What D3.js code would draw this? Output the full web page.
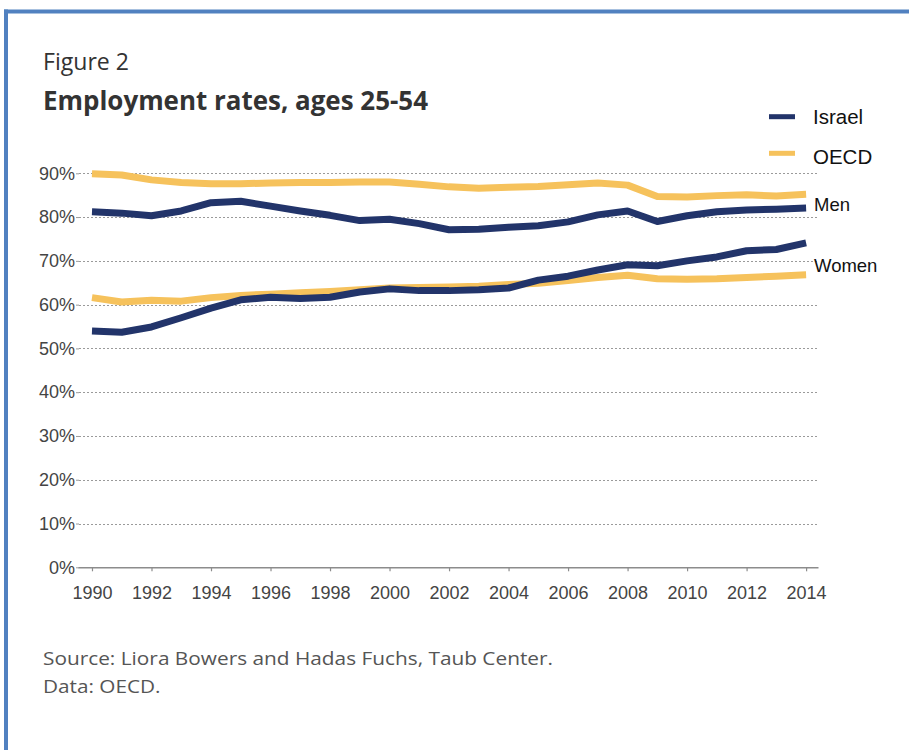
<!DOCTYPE html>
<html>
<head>
<meta charset="utf-8">
<script src="https://cdn.jsdelivr.net/npm/d3@7"></script>
<style>
  html, body { margin: 0; padding: 0; background: #fff; }
  svg { display: block; }
</style>
</head>
<body>
<svg id="chart" width="909" height="750"></svg>
<script>
// Employment rates, ages 25-54 (percent)
const years = d3.range(1990, 2015);
const israelMen   = [81.2, 80.9, 80.3, 81.4, 83.3, 83.6, 82.5, 81.4, 80.4, 79.2, 79.5, 78.5, 77.1, 77.2, 77.7, 78.0, 78.9, 80.5, 81.4, 79.0, 80.3, 81.2, 81.6, 81.8, 82.1];
const oecdMen     = [89.9, 89.6, 88.5, 87.9, 87.6, 87.6, 87.8, 87.9, 87.9, 88.0, 88.0, 87.5, 86.9, 86.6, 86.8, 87.0, 87.4, 87.8, 87.3, 84.7, 84.6, 84.9, 85.1, 84.8, 85.2];
const israelWomen = [54.0, 53.7, 54.9, 57.0, 59.2, 61.1, 61.7, 61.4, 61.7, 62.9, 63.6, 63.2, 63.2, 63.4, 63.8, 65.6, 66.5, 67.9, 69.1, 68.9, 70.0, 70.9, 72.3, 72.6, 74.1];
const oecdWomen   = [61.6, 60.6, 61.0, 60.8, 61.6, 62.1, 62.4, 62.7, 63.0, 63.4, 63.8, 63.9, 64.0, 64.2, 64.6, 64.9, 65.5, 66.2, 66.7, 65.9, 65.8, 65.9, 66.2, 66.5, 66.8];
const yTicks = [0, 10, 20, 30, 40, 50, 60, 70, 80, 90];
const xTicks = d3.range(1990, 2015, 2);
const seriesNames = ["Israel", "OECD"];
const groupLabels = ["Men", "Women"];

const NAVY = "#22346a";
const GOLD = "#f6c25c";

const svg = d3.select("#chart");

// frame: blue rule along the top and left edge
svg.append("line").attr("x1", 4).attr("x2", 909).attr("y1", 11.5).attr("y2", 11.5)
  .attr("stroke", "#5181c0").attr("stroke-width", 4);
svg.append("line").attr("x1", 6).attr("x2", 6).attr("y1", 9.5).attr("y2", 750)
  .attr("stroke", "#5181c0").attr("stroke-width", 4);

// headings
const headFont = "'Open Sans', 'Noto Sans', sans-serif";
svg.append("text").attr("x", 43).attr("y", 70)
  .attr("font-family", headFont).attr("font-size", 23).attr("fill", "#333")
  .attr("textLength", 86).attr("lengthAdjust", "spacingAndGlyphs")
  .text("Figure 2");
svg.append("text").attr("x", 43).attr("y", 110)
  .attr("font-family", headFont).attr("font-size", 27).attr("font-weight", 700).attr("fill", "#333")
  .attr("textLength", 385).attr("lengthAdjust", "spacingAndGlyphs")
  .text("Employment rates, ages 25-54");

// scales
const x = d3.scaleLinear().domain([1989.53, 2014.4]).range([78, 818]);
const y = d3.scaleLinear().domain([0, 90]).range([567.3, 173.3]);

const chartFont = "'Liberation Sans', Arial, sans-serif";

// horizontal gridlines
svg.append("g").selectAll("line")
  .data(yTicks.filter(d => d > 0))
  .join("line")
  .attr("x1", 79).attr("x2", 818)
  .attr("y1", d => Math.round(y(d)) + 0.5).attr("y2", d => Math.round(y(d)) + 0.5)
  .attr("stroke", "#9a9a9a").attr("stroke-width", 1).attr("stroke-dasharray", "2,2");

// y axis labels
const yAxis = d3.axisLeft(y).tickValues(yTicks).tickFormat(d => d + "%").tickSize(3).tickPadding(1);
const gy = svg.append("g").attr("transform", "translate(79,0)").call(yAxis);
gy.select(".domain").remove();
gy.selectAll(".tick line").attr("stroke", "#9a9a9a");
gy.selectAll(".tick text").attr("font-family", chartFont).attr("font-size", 18).attr("fill", "#444");

// x axis
const xAxis = d3.axisBottom(x).tickValues(xTicks).tickFormat(d3.format("d")).tickSize(4).tickSizeOuter(0).tickPadding(15);
const gx = svg.append("g").attr("transform", `translate(0,${y(0)})`).call(xAxis);
gx.select(".domain").attr("stroke", "#8c8c8c").attr("stroke-width", 1.5);
gx.selectAll(".tick line").attr("stroke", "#8c8c8c").attr("stroke-width", 1.2);
gx.selectAll(".tick text").attr("font-family", chartFont).attr("font-size", 18).attr("fill", "#444");

// series lines
const line = d3.line().x((d, i) => x(years[i])).y(d => y(d));
const series = [
  { values: oecdMen, color: GOLD },
  { values: oecdWomen, color: GOLD },
  { values: israelMen, color: NAVY },
  { values: israelWomen, color: NAVY }
];
svg.append("g").selectAll("path")
  .data(series)
  .join("path")
  .attr("d", d => line(d.values))
  .attr("fill", "none")
  .attr("stroke", d => d.color)
  .attr("stroke-width", 7)
  .attr("stroke-linejoin", "round");

// legend
const legend = svg.append("g");
[[NAVY, 116.7, 124], [GOLD, 153.3, 164]].forEach(([c, ly, ty], i) => {
  legend.append("line").attr("x1", 769).attr("x2", 795).attr("y1", ly).attr("y2", ly)
    .attr("stroke", c).attr("stroke-width", 5);
  legend.append("text").attr("x", 813).attr("y", ty)
    .attr("font-family", chartFont).attr("font-size", 20.5).attr("fill", "#111")
    .text(seriesNames[i]);
});

// group labels at the line ends
[[groupLabels[0], 210.5], [groupLabels[1], 272]].forEach(([t, ty]) => {
  svg.append("text").attr("x", 814).attr("y", ty)
    .attr("font-family", chartFont).attr("font-size", 18.5).attr("fill", "#111")
    .text(t);
});

// source note
svg.append("text").attr("x", 43).attr("y", 664.5)
  .attr("font-family", headFont).attr("font-size", 17.5).attr("fill", "#555")
  .attr("textLength", 510).attr("lengthAdjust", "spacingAndGlyphs")
  .text("Source: Liora Bowers and Hadas Fuchs, Taub Center.");
svg.append("text").attr("x", 43).attr("y", 693)
  .attr("font-family", headFont).attr("font-size", 17.5).attr("fill", "#555")
  .attr("textLength", 117.5).attr("lengthAdjust", "spacingAndGlyphs")
  .text("Data: OECD.");
</script>
</body>
</html>
